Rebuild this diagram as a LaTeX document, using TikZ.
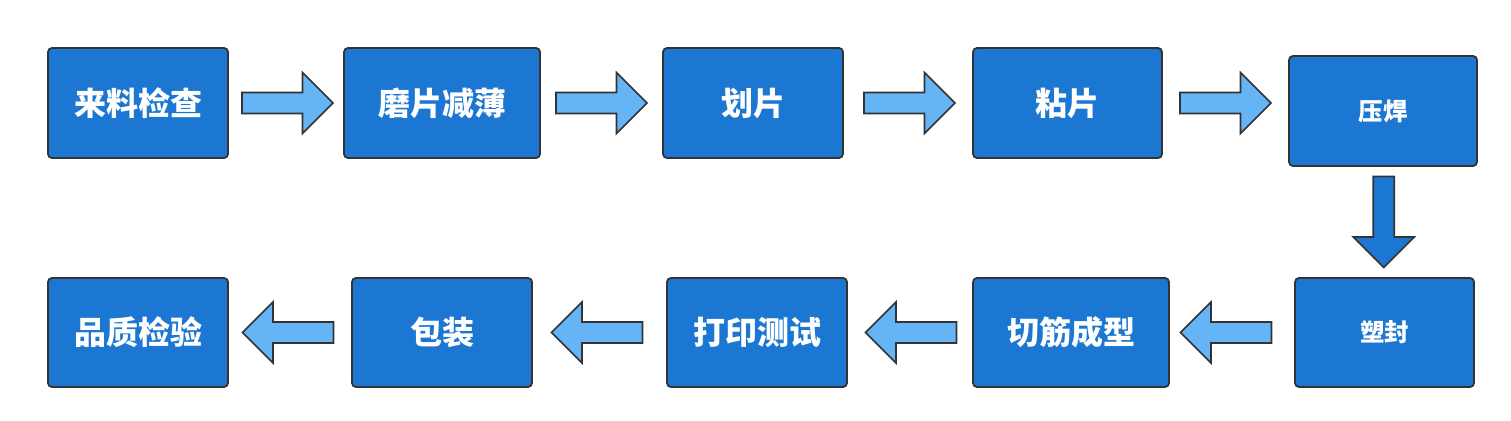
\documentclass[tikz,border=0pt]{standalone}
\usepackage{fontspec}
\newfontfamily\cjk{Noto Sans CJK SC}
\usetikzlibrary{calc}
\definecolor{boxblue}{HTML}{1C77D3}
\definecolor{arrblue}{HTML}{64B4F6}
\definecolor{edgegray}{HTML}{333333}
\begin{document}
\begin{tikzpicture}[x=1pt,y=-1pt,
  stepbox/.style={draw=edgegray, line width=1.8pt, fill=boxblue, rounded corners=4pt,
    text=white, font=\cjk\bfseries\fontsize{32}{36}\selectfont, inner sep=0pt,
    minimum height=110pt},
  smalltext/.style={font=\cjk\bfseries\fontsize{24.5}{28}\selectfont},
  blockarrow/.pic={\draw[pic actions, line width=1.6pt, draw=edgegray, line join=miter]
    (-45.5,-10.5) -- (15,-10.5) -- (15,-30.5) -- (45.5,0) -- (15,30.5) -- (15,10.5)
    -- (-45.5,10.5) -- cycle;},
]
\fill[white] (0,0) rectangle (1511,420);
\useasboundingbox (0,0) rectangle (1511,420);

% row 1
\node[stepbox, minimum width=180pt] (A) at (138,103) {来料检查};
\node[stepbox, minimum width=196pt] (B) at (442,103) {磨片减薄};
\node[stepbox, minimum width=180pt] (C) at (753,103) {划片};
\node[stepbox, minimum width=189pt] (D) at (1067.5,103) {粘片};
\node[stepbox, smalltext, minimum width=188pt] (E) at (1383,111) {压焊};
% row 2
\node[stepbox, smalltext, minimum width=179pt, minimum height=109pt] (F) at (1384.5,332.5) {塑封};
\node[stepbox, minimum width=196pt, minimum height=109pt] (G) at (1071,332.5) {切筋成型};
\node[stepbox, minimum width=180pt, minimum height=109pt] (H) at (757,332.5) {打印测试};
\node[stepbox, minimum width=180pt, minimum height=109pt] (I) at (442,332.5) {包装};
\node[stepbox, minimum width=180pt, minimum height=109pt] (J) at (138,332.5) {品质检验};

% connector positions
\coordinate (m1) at ($(A.east)!0.5!(B.west)+(1.5,0)$);
\coordinate (m2) at ($(B.east)!0.5!(C.west)$);
\coordinate (m3) at ($(C.east)!0.5!(D.west)+(1.5,0)$);
\coordinate (m4) at ($(D.east)!0.5!(E.west)$);
\coordinate (m5) at ($(E.south)!0.5!(F.north)$);
\coordinate (m6) at ($(F.west)!0.5!(G.east)+(-6,0)$);
\coordinate (m7) at ($(G.west)!0.5!(H.east)+(1,0)$);
\coordinate (m8) at ($(H.west)!0.5!(I.east)+(-2.5,0)$);
\coordinate (m9) at ($(I.west)!0.5!(J.east)+(-2,0)$);

\pic[fill=arrblue] at (m1 |- A) {blockarrow};
\pic[fill=arrblue] at (m2 |- B) {blockarrow};
\pic[fill=arrblue] at (m3 |- C) {blockarrow};
\pic[fill=arrblue] at (m4 |- D) {blockarrow};
\pic[fill=boxblue, rotate=-90] at (m5) {blockarrow};
\pic[fill=arrblue, rotate=180] at (m6) {blockarrow};
\pic[fill=arrblue, rotate=180] at (m7) {blockarrow};
\pic[fill=arrblue, rotate=180] at (m8) {blockarrow};
\pic[fill=arrblue, rotate=180] at (m9) {blockarrow};
\end{tikzpicture}
\end{document}
